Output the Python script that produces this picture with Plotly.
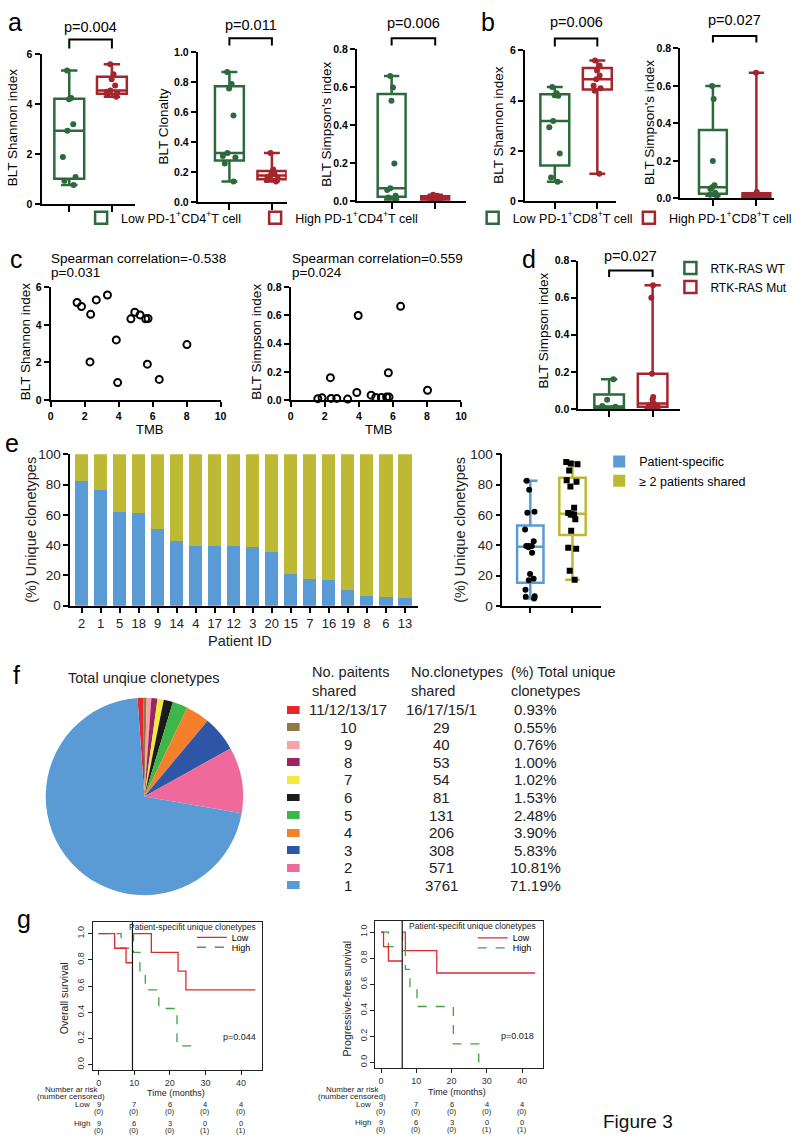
import numpy as np
import plotly.graph_objects as go

W, H = 800, 1146
FONT = "Arial, 'Liberation Sans', sans-serif"
GREEN = "#2c6a3b"
RED = "#a3262e"
BLUE_E = "#5b9bd5"
OLIVE_E = "#bdb935"
KM_RED = "#e0282e"
KM_GREEN = "#3fa33f"

# ---------------- data ----------------
# a: PD-1+CD4+ T cell groups
a_shannon_low = [5.35, 4.25, 4.2, 3.2, 2.95, 1.9, 1.1, 0.95, 0.78]
a_shannon_high = [5.6, 5.2, 5.0, 4.75, 4.55, 4.5, 4.45, 4.4, 4.3]
a_clon_low = [0.87, 0.79, 0.76, 0.58, 0.33, 0.31, 0.30, 0.26, 0.14]
a_clon_high = [0.33, 0.22, 0.20, 0.19, 0.18, 0.17, 0.16, 0.15, 0.14]
a_simp_low = [0.66, 0.60, 0.53, 0.20, 0.07, 0.06, 0.03, 0.02, 0.01]
a_simp_high = [0.035, 0.03, 0.025, 0.02, 0.02, 0.015, 0.01, 0.01, 0.005]
# b: PD-1+CD8+ T cell groups
b_shannon_low = [4.55, 4.3, 4.22, 4.2, 3.2, 2.95, 1.9, 0.95, 0.78]
b_shannon_high = [5.6, 5.4, 5.2, 5.0, 4.85, 4.6, 4.5, 4.4, 1.1]
b_simp_low = [0.60, 0.53, 0.20, 0.07, 0.06, 0.05, 0.03, 0.02, 0.015]
b_simp_high = [0.67, 0.035, 0.02, 0.02, 0.015, 0.01, 0.01, 0.005, 0.005]
# c: TMB correlations
c_tmb_shannon = [1.55, 1.81, 2.68, 3.34, 2.35, 4.72, 4.95, 5.26, 5.59, 5.73, 3.86, 8.02, 2.31, 5.69, 3.94, 6.39]
c_shannon = [5.19, 4.98, 5.33, 5.59, 4.56, 4.32, 4.67, 4.53, 4.32, 4.34, 3.2, 2.95, 2.03, 1.91, 0.93, 1.1]
c_tmb_simpson = [1.59, 1.84, 2.33, 2.37, 2.7, 3.34, 3.88, 3.96, 4.72, 4.99, 5.32, 5.63, 5.73, 5.77, 6.45, 8.03]
c_simpson = [0.01, 0.016, 0.159, 0.012, 0.012, 0.007, 0.054, 0.60, 0.035, 0.019, 0.019, 0.021, 0.194, 0.021, 0.665, 0.07]
# d: RTK-RAS
d_wt = [0.16, 0.05, 0.016, 0.012, 0.008, 0.004]
d_mut = [0.667, 0.60, 0.19, 0.065, 0.05, 0.03, 0.025, 0.02, 0.012, 0.01, 0.005]
# e: unique clonetypes per patient
patient_ids = ["2", "1", "5", "18", "9", "14", "4", "17", "12", "3", "20", "15", "7", "16", "19", "8", "6", "13"]
pct_specific = [82.6, 76.7, 62.2, 61.5, 50.4, 42.8, 39.6, 39.6, 39.6, 38.7, 35.2, 21.1, 18.0, 17.0, 10.7, 6.5, 6.1, 5.0]
pct_shared = [17.4, 23.3, 37.8, 38.5, 49.6, 57.2, 60.4, 60.4, 60.4, 61.3, 64.8, 78.9, 82.0, 83.0, 89.3, 93.5, 93.9, 95.0]
# f: sharing table / pie
f_patients_shared = ["11/12/13/17", "10", "9", "8", "7", "6", "5", "4", "3", "2", "1"]
f_clonetypes_shared = ["16/17/15/1", "29", "40", "53", "54", "81", "131", "206", "308", "571", "3761"]
f_pct_total = [0.93, 0.55, 0.76, 1.00, 1.02, 1.53, 2.48, 3.90, 5.83, 10.81, 71.19]
f_colors = ["#e8262b", "#8c7b44", "#f4a3ab", "#9a2560", "#f3ea3e", "#1b1b1b",
            "#3db64a", "#f5802b", "#2d56a6", "#f0699b", "#5b9bd5"]
# g: Kaplan-Meier (landmark) curves
os_landmark = 9.5
os_low_pre_t, os_low_pre_s = [0, 4.5, 7.7, 9.5], [1.0, 0.889, 0.778, 0.778]
os_high_pre_t, os_high_pre_s = [0, 6.3, 9.5], [1.0, 0.889, 0.889]
os_low_t, os_low_s = [9.5, 14.8, 22.3, 24.5, 44.0], [1.0, 0.857, 0.714, 0.571, 0.571]
os_high_t, os_high_s = [9.5, 9.8, 11.6, 13.1, 16.9, 22.0, 28.5], [1.0, 0.857, 0.714, 0.571, 0.429, 0.143, 0.143]
pfs_landmark = 6.0
pfs_low_pre_t, pfs_low_pre_s = [0, 0.7, 2.1, 6.0], [1.0, 0.889, 0.778, 0.778]
pfs_high_pre_t, pfs_high_pre_s = [0, 2.1, 6.0], [1.0, 0.889, 0.889]
pfs_low_t, pfs_low_s = [6.0, 6.9, 15.8, 43.7], [1.0, 0.857, 0.686, 0.686]
pfs_high_t, pfs_high_s = [6.0, 6.1, 6.9, 8.2, 10.2, 20.5, 27.7], [1.0, 0.857, 0.714, 0.571, 0.429, 0.143, 0.0]
risk_times = [0, 10, 20, 30, 40]
risk_low_n = [9, 7, 6, 4, 4]
risk_low_c = [0, 0, 0, 0, 0]
risk_high_n = [9, 6, 3, 0, 0]
risk_high_c = [0, 0, 0, 1, 1]

# ---------------- helpers ----------------
def dx(l, r):
    return [l / W, r / W]

def dy(t, b):
    return [1 - b / H, 1 - t / H]

fig = go.Figure()
layout = {}
annotations = []
shapes = []

def ann(text, x, y, size=13, xanchor='center', yanchor='middle', angle=0,
        weight='normal', color='black', xref='paper', yref='paper', align='center'):
    annotations.append(dict(
        text=text, showarrow=False, xanchor=xanchor, yanchor=yanchor, textangle=angle, align=align,
        x=x / W if xref == 'paper' else x, y=(1 - y / H) if yref == 'paper' else y,
        xref=xref, yref=yref, borderpad=0,
        font=dict(family=FONT, size=size, color=color, weight=weight)))

TICKFONT_B = dict(family=FONT, size=10.5, color='black', weight='bold')

def gp_axes(n, xl, xr, yt, yb, xrange, yrange, ydtick, yfmt):
    layout[f'xaxis{n}'] = dict(
        domain=dx(xl, xr), range=xrange, anchor=f'y{n}', showline=True, linecolor='black',
        linewidth=2, ticks='outside', ticklen=6, tickwidth=2, tickcolor='black',
        tickvals=[0, 1], ticktext=['', ''], showgrid=False, zeroline=False)
    layout[f'yaxis{n}'] = dict(
        domain=dy(yt, yb), range=yrange, anchor=f'x{n}', showline=True, linecolor='black',
        linewidth=2, ticks='outside', ticklen=5, tickwidth=2, tickcolor='black',
        dtick=ydtick, tick0=0, tickformat=yfmt, tickfont=TICKFONT_B, showgrid=False,
        zeroline=False)

def add_box(n, pos, vals, color, width, symbol='circle', ptcolor=None, name=None,
            legend=None, showlegend=False, msize=6):
    q1, med, q3 = np.percentile(vals, [25, 50, 75], method='weibull')
    fig.add_trace(go.Box(
        x=[pos], q1=[q1], median=[med], q3=[q3], lowerfence=[min(vals)],
        upperfence=[max(vals)], orientation='v', xaxis=f'x{n}', yaxis=f'y{n}',
        width=width, whiskerwidth=0.55, line=dict(color=color, width=2.5),
        fillcolor='white', boxpoints=False, name=name or '', showlegend=showlegend,
        legend=legend or 'legend', hoverinfo='skip'))
    fig.add_trace(go.Box(
        x0=pos, y=vals, orientation='v', xaxis=f'x{n}', yaxis=f'y{n}', width=width,
        boxpoints='all', jitter=0.55, pointpos=0, line=dict(width=0, color='rgba(0,0,0,0)'),
        fillcolor='rgba(0,0,0,0)', marker=dict(color=ptcolor or color, size=msize, symbol=symbol),
        showlegend=False, hoverinfo='y'))

def bracket(n, y_top, y_leg, ptext, y_text):
    shapes.append(dict(type='path', xref=f'x{n}', yref='paper',
                       path=f"M 0,{1 - y_leg / H} L 0,{1 - y_top / H} L 1,{1 - y_top / H} L 1,{1 - y_leg / H}",
                       line=dict(color='black', width=2)))
    annotations.append(dict(text=ptext, showarrow=False, x=0.5, xref=f'x{n}', y=1 - y_text / H,
                            yref='paper', xanchor='center', yanchor='middle', borderpad=0,
                            font=dict(family=FONT, size=14.5, color='black')))

def legend_box(x_text, y_center, size=12.5, order='normal'):
    return dict(x=(x_text - 40) / W, y=1 - y_center / H, xanchor='left', yanchor='middle',
                bgcolor='rgba(0,0,0,0)', borderwidth=0, orientation='v', tracegroupgap=0,
                traceorder=order, font=dict(family=FONT, size=size, color='black'))

low4 = "Low PD-1<sup>+</sup>CD4<sup>+</sup>T cell"
high4 = "High PD-1<sup>+</sup>CD4<sup>+</sup>T cell"
low8 = "Low PD-1<sup>+</sup>CD8<sup>+</sup>T cell"
high8 = "High PD-1<sup>+</sup>CD8<sup>+</sup>T cell"

# ---------------- panel a ----------------
gp_axes(1, 39, 133, 48, 200, [-0.65, 1.53], [0, 6], 2, 'd')
add_box(1, 0, a_shannon_low, GREEN, 0.7, name=low4, legend='legend', showlegend=True)
add_box(1, 1, a_shannon_high, RED, 0.7, name=high4, legend='legend2', showlegend=True)
bracket(1, 33, 42, "p=0.004", 20)
ann("BLT Shannon index", 10, 122, size=13.5, angle=-90)

gp_axes(2, 197, 287, 46, 198, [-0.744, 1.35], [0, 1.0], 0.2, '.1f')
add_box(2, 0, a_clon_low, GREEN, 0.68)
add_box(2, 1, a_clon_high, RED, 0.68)
bracket(2, 31.7, 39, "p=0.011", 18)
ann("BLT Clonalty", 162, 121, size=13.5, angle=-90)

gp_axes(3, 358, 468, 43, 197, [-0.795, 1.70], [0, 0.8], 0.2, '.1f')
add_box(3, 0, a_simp_low, GREEN, 0.64)
add_box(3, 1, a_simp_high, RED, 0.64)
bracket(3, 31.7, 39, "p=0.006", 16)
ann("BLT Simpson's index", 327, 119, size=13.5, angle=-90)

# ---------------- panel b ----------------
gp_axes(4, 528, 620, 44, 197, [-0.70, 1.44], [0, 6], 2, 'd')
add_box(4, 0, b_shannon_low, GREEN, 0.68, name=low8, legend='legend3', showlegend=True)
add_box(4, 1, b_shannon_high, RED, 0.68, name=high8, legend='legend4', showlegend=True)
bracket(4, 32, 40, "p=0.006", 15)
ann("BLT Shannon index", 501, 119, size=13.5, angle=-90)

gp_axes(5, 685, 780, 42, 194, [-0.75, 1.41], [0, 0.8], 0.2, '.1f')
add_box(5, 0, b_simp_low, GREEN, 0.64)
add_box(5, 1, b_simp_high, RED, 0.64)
bracket(5, 29.3, 36, "p=0.027", 13)
ann("BLT Simpson's index", 654, 117, size=13.5, angle=-90)

# ---------------- panel c ----------------
for n, xl, xr, yr, ydt, yfmt in [(6, 48.3, 220, [0, 6], 2, 'd'), (7, 291, 463.3, [0, 0.8], 0.2, '.1f')]:
    layout[f'xaxis{n}'] = dict(domain=dx(xl, xr), range=[0, 10], anchor=f'y{n}', showline=True,
                               linecolor='black', linewidth=2, ticks='outside', ticklen=5, tickwidth=2,
                               tickcolor='black', dtick=2, tick0=0, tickfont=TICKFONT_B,
                               showgrid=False, zeroline=False)
    layout[f'yaxis{n}'] = dict(domain=dy(284, 398.3), range=yr, anchor=f'x{n}', showline=True,
                               linecolor='black', linewidth=2, ticks='outside', ticklen=5, tickwidth=2,
                               tickcolor='black', dtick=ydt, tick0=0, tickformat=yfmt,
                               tickfont=TICKFONT_B, showgrid=False, zeroline=False)
fig.add_trace(go.Scatter(x=c_tmb_shannon, y=c_shannon, mode='markers', xaxis='x6', yaxis='y6',
                         marker=dict(symbol='circle-open', size=7, color='black', line=dict(width=2)),
                         showlegend=False, cliponaxis=False))
fig.add_trace(go.Scatter(x=c_tmb_simpson, y=c_simpson, mode='markers', xaxis='x7', yaxis='y7',
                         marker=dict(symbol='circle-open', size=7, color='black', line=dict(width=2)),
                         showlegend=False, cliponaxis=False))
ann("Spearman correlation=-0.538", 48, 255, size=13.5, xanchor='left')
ann("p=0.031", 48, 269, size=13.5, xanchor='left')
ann("Spearman correlation=0.559", 291, 255, size=13.5, xanchor='left')
ann("p=0.024", 291, 269, size=13.5, xanchor='left')
ann("BLT Shannon index", 23, 339, size=13.5, angle=-90)
ann("BLT Simpson index", 256, 339, size=13.5, angle=-90)
ann("TMB", 148, 428, size=13)
ann("TMB", 380, 428, size=13)

# ---------------- panel d ----------------
gp_axes(8, 582, 685, 257, 407.3, [-0.705, 1.636], [0, 0.8], 0.2, '.1f')
add_box(8, 0, d_wt, GREEN, 0.68, name="RTK-RAS WT", legend='legend5', showlegend=True)
add_box(8, 1, d_mut, RED, 0.68, name="RTK-RAS Mut", legend='legend5', showlegend=True)
bracket(8, 267, 273.5, "p=0.027", 252)
ann("BLT Simpson index", 547, 328, size=13.5, angle=-90)

# ---------------- panel e ----------------
layout['xaxis9'] = dict(domain=dx(68, 420), range=[-0.6, 17.7], anchor='y9', type='category',
                        showline=True, linecolor='black', linewidth=1.5, ticks='outside', ticklen=5,
                        tickwidth=1.5, tickcolor='black', showgrid=False, zeroline=False,
                        tickfont=dict(family=FONT, size=13, color='#222'))
layout['yaxis9'] = dict(domain=dy(453.3, 606.7), range=[0, 100], anchor='x9', showline=True,
                        linecolor='black', linewidth=1.5, ticks='outside', ticklen=5, tickwidth=1.5,
                        tickcolor='black', dtick=20, showgrid=False, zeroline=False,
                        tickfont=dict(family=FONT, size=13.5, color='#222'))
fig.add_trace(go.Bar(x=patient_ids, y=pct_specific, marker=dict(color=BLUE_E, line=dict(width=0)),
                     xaxis='x9', yaxis='y9', name="Patient-specific", legend='legend6'))
fig.add_trace(go.Bar(x=patient_ids, y=pct_shared, marker=dict(color=OLIVE_E, line=dict(width=0)),
                     xaxis='x9', yaxis='y9', name="≥ 2 patients shared", legend='legend6'))
ann("(%) Unique clonetypes", 28, 530, size=14.5, angle=-90, color='#222')
ann("Patient ID", 240, 642, size=14.5, color='#222')

layout['xaxis10'] = dict(domain=dx(505, 605), range=[-0.663, 1.68], anchor='y10', showline=True,
                         linecolor='black', linewidth=1.5, ticks='outside', ticklen=5, tickwidth=1.5,
                         tickcolor='black', tickvals=[0, 1], ticktext=['', ''], showgrid=False,
                         zeroline=False)
layout['yaxis10'] = dict(domain=dy(453.3, 607), range=[0, 100], anchor='x10', showline=True,
                         linecolor='black', linewidth=1.5, ticks='outside', ticklen=5, tickwidth=1.5,
                         tickcolor='black', dtick=20, showgrid=False, zeroline=False,
                         tickfont=dict(family=FONT, size=13.5, color='#222'))
add_box(10, 0, pct_specific, BLUE_E, 0.625, ptcolor='black')
add_box(10, 1, pct_shared, OLIVE_E, 0.625, ptcolor='black', symbol='square')
ann("(%) Unique clonetypes", 462, 530, size=14.5, angle=-90, color='#222')

# ---------------- panel f ----------------
fig.add_trace(go.Pie(values=f_pct_total, labels=f_patients_shared, sort=False, direction='clockwise',
                     rotation=-4, marker=dict(colors=f_colors, line=dict(width=0)), textinfo='none',
                     showlegend=False, domain=dict(x=dx(43, 243), y=dy(700, 900)), hoverinfo='label+value'))
ann("Total unqiue clonetypes", 143, 680, size=14.5, color='#222')

layout['xaxis11'] = dict(domain=dx(287, 300), range=[0, 1], anchor='y11', visible=False)
layout['yaxis11'] = dict(domain=dy(703.1, 898.9), range=[len(f_patients_shared) - 0.5, -0.5],
                         anchor='x11', visible=False, type='category',
                         categoryarray=f_patients_shared, categoryorder='array')
fig.add_trace(go.Bar(y=f_patients_shared, x=[1] * len(f_patients_shared), orientation='h',
                     width=0.45, marker=dict(color=f_colors, line=dict(width=0)),
                     xaxis='x11', yaxis='y11', showlegend=False))
for i, (a, b, p) in enumerate(zip(f_patients_shared, f_clonetypes_shared, f_pct_total)):
    for txt, xc in [(a, 349), (b, 443), (f"{p:.2f}%", 539)]:
        annotations.append(dict(text=txt, showarrow=False, x=xc / W, xref='paper', y=i, yref='y11',
                                xanchor='center', yanchor='middle', borderpad=0,
                                font=dict(family=FONT, size=15, color='#222')))
ann("No. paitents<br>shared", 312, 683, size=14.5, xanchor='left', align='left', color='#222')
ann("No.clonetypes<br>shared", 412, 683, size=14.5, xanchor='left', align='left', color='#222')
ann("(%) Total unique<br>clonetypes", 513, 683, size=14.5, xanchor='left', align='left', color='#222')

# ---------------- panel g ----------------
KM_TICK = dict(family=FONT, size=9, color='#333')
for n, xl, xr, yt, yb in [(12, 90.7, 261.7, 927.3, 1077.3), (13, 376.4, 545.7, 925.7, 1075)]:
    layout[f'xaxis{n}'] = dict(domain=dx(xl, xr), range=[-1.67, 45.8], anchor=f'y{n}', showline=True,
                               mirror=True, linecolor='#222', linewidth=1, ticks='outside', ticklen=4,
                               tickwidth=1, tickcolor='#222', tickvals=risk_times, showgrid=False,
                               zeroline=False, tickfont=KM_TICK)
    layout[f'yaxis{n}'] = dict(domain=dy(yt, yb), range=[-0.042, 1.088], anchor=f'x{n}', showline=True,
                               mirror=True, linecolor='#222', linewidth=1, ticks='outside', ticklen=4,
                               tickwidth=1, tickcolor='#222', dtick=0.2, tick0=0, tickformat='.1f',
                               tickangle=-90, showgrid=False, zeroline=False, tickfont=KM_TICK)

def km(n, t, s, color, dash, name=None, legend=None):
    fig.add_trace(go.Scatter(x=t, y=s, mode='lines', line=dict(color=color, width=1.3, dash=dash, shape='hv'),
                             xaxis=f'x{n}', yaxis=f'y{n}', name=name or '', showlegend=name is not None,
                             legend=legend or 'legend'))

km(12, os_high_pre_t, os_high_pre_s, KM_GREEN, 'dash')
km(12, os_low_pre_t, os_low_pre_s, KM_RED, 'solid')
km(12, os_low_t, os_low_s, KM_RED, 'solid', "Low", 'legend7')
km(12, os_high_t, os_high_s, KM_GREEN, 'dash', "High", 'legend8')
km(13, pfs_high_pre_t, pfs_high_pre_s, KM_GREEN, 'dash')
km(13, pfs_low_pre_t, pfs_low_pre_s, KM_RED, 'solid')
km(13, pfs_low_t, pfs_low_s, KM_RED, 'solid', "Low", 'legend9')
km(13, pfs_high_t, pfs_high_s, KM_GREEN, 'dash', "High", 'legend10')

for n, lm in [(12, os_landmark), (13, pfs_landmark)]:
    shapes.append(dict(type='line', xref=f'x{n}', yref=f'y{n} domain', x0=lm, x1=lm, y0=0, y1=1,
                       line=dict(color='#111', width=1.2)))

ann("Patient-specifit unique clonetypes", 256.7, 931.7, size=8.5, xanchor='right', color='#222')
ann("Patient-specifit unique clonetypes", 540, 931, size=8.5, xanchor='right', color='#222')
annotations.append(dict(text="p=0.044", showarrow=False, x=39.5, xref='x12', y=0.21, yref='y12',
                        font=dict(family=FONT, size=9, color='#222')))
annotations.append(dict(text="p=0.018", showarrow=False, x=38.8, xref='x13', y=0.2, yref='y13',
                        font=dict(family=FONT, size=9, color='#222')))
ann("Overall survival", 62, 1004, size=10.5, angle=-90, color='#222')
ann("Progressive-free survival", 347.5, 1005, size=10.5, angle=-90, color='#222')
ann("Time (months)", 175, 1100, size=9, color='#222')
ann("Time (months)", 459, 1099, size=9, color='#222')

RS = 7.5
for n, xc, ylab in [(12, 69, 1097), (13, 353, 1096.5)]:
    ann("Number ar risk", xc, ylab, size=RS + 0.5, color='#222')
    ann("(number censored)", xc, ylab + 7, size=RS + 0.5, color='#222')
    ann("Low", xc + 20, ylab + 15.5, size=RS + 0.5, xanchor='right', color='#222')
    ann("High", xc + 20, ylab + 34, size=RS + 0.5, xanchor='right', color='#222')
    for t, ln, lc, hn, hc in zip(risk_times, risk_low_n, risk_low_c, risk_high_n, risk_high_c):
        for txt, yy in [(str(ln), ylab + 15.5), (f"({lc})", ylab + 22.5), (str(hn), ylab + 34), (f"({hc})", ylab + 41)]:
            annotations.append(dict(text=txt, showarrow=False, x=t, xref=f'x{n}', y=1 - yy / H, yref='paper',
                                    xanchor='center', yanchor='middle', borderpad=0,
                                    font=dict(family=FONT, size=RS, color='#222')))

# ---------------- panel letters etc ----------------
for letter, x, y in [("a", 12, 15), ("b", 491, 15), ("c", 14, 255), ("d", 532, 255),
                     ("e", 9, 442), ("f", 14, 677), ("g", 21, 924)]:
    ann(letter, x, y, size=25, color='black')
ann("Figure 3", 642, 1129, size=19, color='#111')

# ---------------- legends ----------------
layout['legend'] = legend_box(119, 214)
layout['legend2'] = legend_box(295, 214)
layout['legend3'] = legend_box(515, 214)
layout['legend4'] = legend_box(673, 214)
layout['legend5'] = legend_box(715, 274, size=12)
layout['legend6'] = legend_box(643, 470.5, size=12.5)
layout['legend7'] = legend_box(231, 942.7, size=9)
layout['legend8'] = legend_box(231, 952.7, size=9)
layout['legend9'] = legend_box(515, 943.3, size=9)
layout['legend10'] = legend_box(515, 953.3, size=9)

fig.update_layout(
    width=W, height=H, margin=dict(l=0, r=0, t=0, b=0), paper_bgcolor='white', plot_bgcolor='white',
    barmode='stack', bargap=0.31, boxmode='overlay', font=dict(family=FONT, color='black'),
    annotations=annotations, shapes=shapes, **layout)

fig.write_html("out.html", config={'displayModeBar': False},
               post_script="document.body.style.margin='0';")
